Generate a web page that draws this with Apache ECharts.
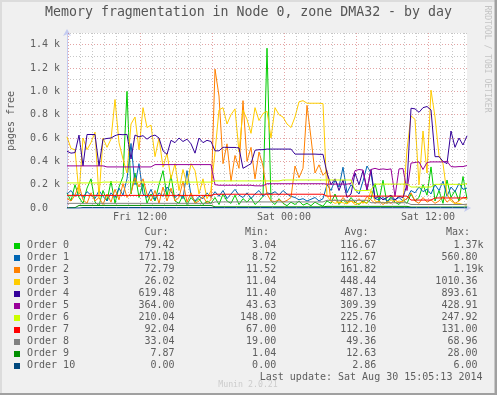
<!DOCTYPE html>
<html><head><meta charset="utf-8">
<script src="https://cdn.jsdelivr.net/npm/echarts@6/dist/echarts.min.js"></script>
<style>html,body{margin:0;padding:0;background:#f0f0f0;}#c{width:497px;height:395px;}</style>
</head><body><div id="c"></div>
<script>
// ---- data (time axis: minutes since Fri 00:00, one sample every 20 minutes from 05:55) ----
const startMin = 355;
const stepMin = 20;
const seriesNames = ['Order 0','Order 1','Order 2','Order 3','Order 4','Order 5','Order 6','Order 7','Order 8','Order 9','Order 10'];
const seriesColors = ['#00CC00','#0066B3','#FF8000','#FFCC00','#330099','#990099','#CCFF00','#FF0000','#808080','#008F00','#00487D'];
const order0 = [130,60,200,90,40,170,250,50,20,150, 60,230,40,180,270,1000,120,300,90,210, 40,120,60,200,320,100,280,60,40,110, 30,90,50,80,30,60,40,90,30,120, 60,40,110,30,80,50,90,30,60,100, 1370,60,30,80,40,20,50,30,60,25, 40,20,50,30,15,60,40,120,30,70, 40,90,50,30,60,40,80,209,60,238, 40,100,50,30,70,40,120,60,90,200, 110,352,60,150,40,240,90,150,60,270, 79];
const order1 = [120,150,100,130,90,140,110,80,150,100, 60,130,90,170,110,250,553,200,380,120, 90,160,70,130,100,180,140,90,120,80, 320,110,60,100,80,130,90,140,100,150, 80,120,160,110,90,130,80,120,150,100, 130,120,140,110,150,120,100,90,70,80, 60,75,90,60,80,200,150,240,180,350, 130,200,160,120,230,360,300,80,70,90, 60,80,70,90,60,80,150,130,180,140, 160,120,200,150,230,100,180,140,210,160, 171];
const order2 = [80,60,110,200,70,40,130,60,90,30, 120,50,160,70,210,90,130,260,180,250, 120,60,150,40,180,60,170,60,90,230, 50,130,40,60,100,40,70,1190,960,380, 550,230,450,340,920,400,520,250,480,360, 120,60,55,70,50,65,90,360,260,340, 880,600,300,370,280,320,55,70,40,90, 50,60,45,80,40,100,70,40,60,30, 55,40,70,45,60,80,130,60,40,90, 50,70,40,60,100,50,80,40,60,90, 73];
const order3 = [610,510,500,120,600,500,560,650,90,600, 520,590,930,560,420,300,720,780,500,860, 690,710,440,600,350,470,250,380,150,330, 200,380,320,120,250,80,150,480,840,860, 720,800,850,480,840,760,640,860,750,810, 830,600,860,800,780,720,690,780,910,920, 898,898,898,898,895,100,60,40,50,45, 35,60,30,40,50,40,150,60,45,50, 40,70,45,60,50,500,790,760,200,660, 300,1010,780,450,380,120,60,35,40,30, 26];
const order4 = [487,470,475,625,360,630,630,630,360,590, 596,600,620,631,628,631,420,625,610,620, 590,615,625,600,490,460,580,560,600,570, 590,550,470,600,560,580,570,490,490,520, 520,519,519,515,340,360,380,495,500,500, 505,505,505,505,505,505,505,462,462,462, 462,462,462,460,460,300,200,250,150,240, 90,120,300,200,320,150,330,80,100,70, 90,110,70,100,90,200,855,850,820,860, 870,840,440,440,400,380,660,520,600,540, 619];
const order5 = [361,361,361,361,361,361,361,361,361,361, 352,352,352,352,352,352,352,352,352,352, 352,352,372,372,372,372,372,372,372,372, 372,372,372,372,372,372,372,200,195,195, 195,195,195,195,195,195,195,190,190,190, 208,208,208,208,208,208,208,208,208,208, 208,208,208,208,208,205,205,205,205,205, 205,210,320,330,325,160,330,340,330,335, 330,335,100,335,338,150,385,390,395,330, 390,395,395,395,395,400,355,352,355,355, 364];
const order6 = [215,215,215,215,215,215,215,215,215,222, 222,222,222,222,222,222,222,222,222,222, 222,222,222,222,222,222,222,222,222,222, 222,222,222,222,222,222,222,232,232,232, 232,232,232,232,232,232,232,232,232,232, 232,232,232,232,240,240,240,240,240,240, 240,240,240,240,240,240,240,240,240,240, 240,240,150,148,150,150,155,205,205,205, 205,205,205,205,205,205,180,180,180,180, 180,180,203,203,203,203,203,203,203,203, 210];
const order7 = [108,108,108,108,108,108,108,108,108,108, 108,108,108,108,108,108,108,108,108,108, 108,108,108,108,108,108,108,108,108,108, 108,108,108,108,108,108,108,118,118,118, 118,118,118,118,118,118,118,118,118,118, 118,118,118,118,118,118,118,118,118,118, 118,118,118,118,118,102,102,102,102,102, 102,102,102,102,102,102,102,102,102,102, 102,102,102,102,102,102,68,68,68,68, 68,68,86,86,86,86,86,86,86,86, 92];
const order8 = [40,40,40,40,40,40,40,40,40,40, 40,40,40,40,40,40,40,40,40,40, 40,40,40,40,40,40,40,40,40,40, 40,40,40,40,40,40,40,52,52,52, 52,52,52,52,52,52,52,52,52,52, 52,52,52,52,52,52,52,52,52,52, 52,52,52,52,52,66,66,66,66,66, 66,66,66,66,66,66,45,45,45,45, 45,45,45,45,45,45,30,30,30,30, 30,30,30,30,30,30,30,30,30,30, 33];
const order9 = [3,3,3,22,22,22,22,22,22,22, 22,22,22,22,22,22,22,22,22,22, 22,22,22,22,22,22,22,22,22,22, 22,22,22,22,22,22,22,10,10,10, 10,10,10,10,10,10,10,10,10,10, 10,10,10,10,10,10,10,10,10,10, 10,10,10,10,10,14,14,14,14,14, 14,14,14,14,14,14,14,14,14,14, 14,14,14,14,14,14,8,8,8,8, 8,8,8,8,8,8,8,8,8,8, 7.87];
const order10 = [0,0,0,0,4,4,4,4,4,4, 4,4,4,4,4,4,4,4,4,4, 4,4,4,4,4,4,4,4,4,4, 4,4,4,4,4,4,4,4,4,4, 4,4,4,4,4,4,4,4,4,4, 4,3,3,3,3,3,3,3,3,3, 3,3,3,3,3,3,3,3,3,3, 3,3,3,3,3,3,3,3,3,3, 3,3,3,3,3,3,3,3,3,3, 3,3,3,3,3,3,3,3,3,3, 0];
const curVals = ['79.42','171.18','72.79','26.02','619.48','364.00','210.04','92.04','33.04','7.87','0.00'];
const minVals = ['3.04','8.72','11.52','11.04','11.40','43.63','148.00','67.00','19.00','1.04','0.00'];
const avgVals = ['116.67','112.67','161.82','448.44','487.13','309.39','225.76','112.10','49.36','12.63','2.86'];
const maxVals = ['1.37k','560.80','1.19k','1010.36','893.61','428.91','247.92','131.00','68.96','28.00','6.00'];
const xTickLabels = {720:'Fri 12:00', 1440:'Sat 00:00', 2160:'Sat 12:00'};
const gridHours = [6,7,8,9,10,11,12,13,14,15,16,17,18,19,20,21,22,23,24,25,26,27,28,29,30,31,32,33,34,35,36,37,38,39];
const titleText = 'Memory fragmentation in Node 0, zone DMA32 - by day';
const yAxisTitle = 'pages free';
const lastUpdate = 'Last update: Sat Aug 30 15:05:13 2014';
const muninText = 'Munin 2.0.21';
const rrdText = 'RRDTOOL / TOBI OETIKER';

// ---- rendering ----
const allSeries = [order0,order1,order2,order3,order4,order5,order6,order7,order8,order9,order10];
const MONO = '"DejaVu Sans Mono", monospace';
const FONT_C = '#5e5e5e';
const GRID_C = 'rgba(143,143,143,0.5)';
const MGRID_C = 'rgba(200,73,73,0.5)';
const AXIS_C = '#c4cbf0';

const chart = echarts.init(document.getElementById('c'), null, {renderer: 'canvas'});
const graphics = [];
graphics.push({type:'text', x:248.5, y:13, style:{text:titleText, fill:'#555', fontFamily:MONO, fontSize:13.25, align:'center', verticalAlign:'middle'}});
graphics.push({type:'text', x:11, y:121, rotation:Math.PI/2, style:{text:yAxisTitle, fill:FONT_C, fontFamily:MONO, fontSize:10, align:'center', verticalAlign:'middle'}});
graphics.push({type:'text', x:487, y:59, rotation:-Math.PI/2, style:{text:rrdText, fill:'#c4c4c4', fontFamily:MONO, fontSize:8.1, align:'center', verticalAlign:'middle'}});
const headers = [['Cur:',168.5],['Min:',269],['Avg:',368.5],['Max:',470]];
headers.forEach(h => graphics.push({type:'text', x:h[1], y:232.3, style:{text:h[0], fill:FONT_C, fontFamily:MONO, fontSize:10, align:'right', verticalAlign:'middle'}}));
for (let i = 0; i < seriesNames.length; i++) {
  const yc = 245.3 + 12 * i;
  graphics.push({type:'rect', shape:{x:14, y:yc - 2.3, width:6, height:6}, style:{fill:seriesColors[i]}});
  graphics.push({type:'text', x:27, y:yc, style:{text:seriesNames[i], fill:FONT_C, fontFamily:MONO, fontSize:10, align:'left', verticalAlign:'middle'}});
  const cols = [[curVals[i],174.5],[minVals[i],276.2],[avgVals[i],376.3],[maxVals[i],477.5]];
  cols.forEach(c => {
    const isK = c[0].endsWith('k');
    graphics.push({type:'text', x: isK ? c[1] + 6 : c[1], y:yc, style:{text:c[0], fill:FONT_C, fontFamily:MONO, fontSize:10, align:'right', verticalAlign:'middle'}});
  });
}
graphics.push({type:'text', x:482.5, y:377.5, style:{text:lastUpdate, fill:FONT_C, fontFamily:MONO, fontSize:10, align:'right', verticalAlign:'middle'}});
graphics.push({type:'text', x:248, y:384.5, style:{text:muninText, fill:'#cccccc', fontFamily:MONO, fontSize:8.25, align:'center', verticalAlign:'middle'}});
// frame
graphics.push({type:'rect', shape:{x:0, y:0, width:497, height:2}, style:{fill:'#dcdcdc'}});
graphics.push({type:'rect', shape:{x:0, y:0, width:2, height:395}, style:{fill:'#dcdcdc'}});
graphics.push({type:'rect', shape:{x:494.5, y:0, width:2.5, height:395}, style:{fill:'#a0a0a0'}});
graphics.push({type:'rect', shape:{x:0, y:393, width:497, height:2}, style:{fill:'#a0a0a0'}});

const gridSeries = {
  type:'line', name:'grid', data:[], silent:true, animation:false,
  markLine:{
    silent:true, animation:false, symbol:['none','none'], label:{show:false},
    emphasis:{disabled:true},
    data: gridHours.map(h => ({xAxis: h * 60, lineStyle:{color: (h % 6 === 0) ? MGRID_C : GRID_C, width:1, type:[1,2]}}))
  }
};

chart.setOption({
  animation: false,
  backgroundColor: '#f0f0f0',
  grid: {left:67, top:33, width:400, height:175, show:true, backgroundColor:'#ffffff', borderWidth:0, containLabel:false},
  xAxis: {
    type:'value', min:startMin, max:startMin + 2000, interval:5,
    axisLine:{show:true, lineStyle:{color:AXIS_C, width:1}, symbol:['none','arrow'], symbolSize:[6,7], symbolOffset:[0,4]},
    axisTick:{show:false},
    axisLabel:{show:true, color:FONT_C, fontFamily:MONO, fontSize:10, margin:4, formatter: v => xTickLabels[v] || ''},
    splitLine:{show:false}
  },
  yAxis: {
    type:'value', min:0, max:1500, interval:100,
    axisLine:{show:true, onZero:false, lineStyle:{color:AXIS_C, width:1}, symbol:['none','arrow'], symbolSize:[6,7], symbolOffset:[0,4]},
    axisTick:{show:false},
    axisLabel:{show:true, color:FONT_C, fontFamily:MONO, fontSize:10, align:'left', margin:37,
      formatter: v => (v % 200 !== 0) ? '' : (v === 0 ? '0.0' : (v/1000).toFixed(1) + ' k')},
    splitLine:{show:true, lineStyle:{color:[MGRID_C, GRID_C], width:1, type:[1,2]}}
  },
  graphic: graphics,
  series: [gridSeries].concat(allSeries.map((vals, k) => ({
    type:'line', name:seriesNames[k],
    data: vals.map((v, i) => [startMin + i * stepMin, v]),
    showSymbol:false, symbol:'none', animation:false,
    lineStyle:{width:1, color:seriesColors[k]}, itemStyle:{color:seriesColors[k]},
    emphasis:{disabled:true}
  })))
});
</script></body></html>
